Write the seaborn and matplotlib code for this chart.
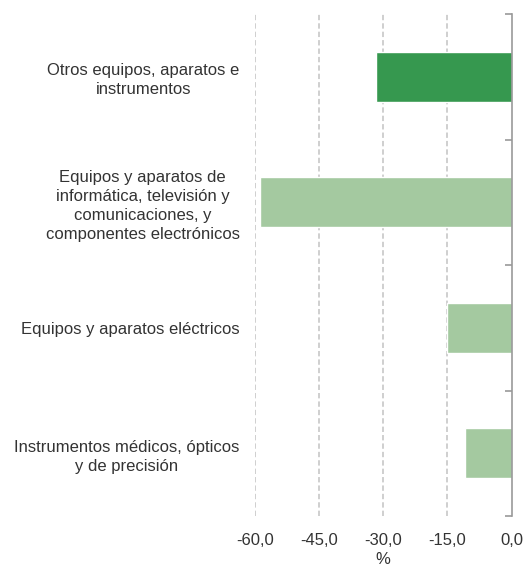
import matplotlib
matplotlib.use("Agg")
import matplotlib.pyplot as plt
from matplotlib.ticker import FixedLocator
import seaborn as sns
import pandas as pd

categories = [
    "Otros equipos, aparatos e\ninstrumentos",
    "Equipos y aparatos de\ninformática, televisión y\ncomunicaciones, y\ncomponentes electrónicos",
    "Equipos y aparatos eléctricos",
    "Instrumentos médicos, ópticos\ny de precisión",
]
values = [-31.6, -58.8, -15.0, -10.9]
colors = ["#36984f", "#a4c9a0", "#a4c9a0", "#a4c9a0"]
xticks = [-60, -45, -30, -15, 0]
xticklabels = ["-60,0", "-45,0", "-30,0", "-15,0", "0,0"]

sns.set_theme(style="white")
plt.rcParams["font.family"] = ["Liberation Sans", "DejaVu Sans"]

df = pd.DataFrame({"cat": categories, "val": values})

fig = plt.figure(figsize=(5.26, 5.69), dpi=100)
ax = fig.add_axes([255 / 526, 1 - 516 / 569, (511.5 - 255) / 526, (516 - 14) / 569])

sns.barplot(data=df, x="val", y="cat", hue="cat", palette=colors,
            legend=False, width=0.4, ax=ax, saturation=1)

ax.set_xlim(-60, 0)
ax.set_ylim(3.5, -0.5)

# dashed vertical gridlines
for t in xticks[:-1]:
    ax.axvline(t, color="#c2c2c2", lw=1.1, ls=(0, (3.5, 2)), zorder=0)

ax.set_xticks(xticks)
ax.set_xticklabels(xticklabels, fontsize=12, color="#333333")
ax.set_xlabel("%", fontsize=12, color="#333333", labelpad=3)
ax.set_ylabel("")
ax.tick_params(axis="x", length=0, pad=12)

ax.set_yticks(range(len(categories)))
ax.set_yticklabels(categories, fontsize=12, color="#333333",
                   multialignment="center", linespacing=1.35)
ax.tick_params(axis="y", which="major", length=0, pad=11)

# category boundary ticks on the zero line
ax.yaxis.set_minor_locator(FixedLocator([-0.5, 0.5, 1.5, 2.5, 3.5]))
ax.tick_params(axis="y", which="minor", left=False, right=True,
               direction="in", length=5, width=1.2, color="#999999")

for s in ["top", "left", "bottom"]:
    ax.spines[s].set_visible(False)
ax.spines["right"].set_color("#999999")
ax.spines["right"].set_linewidth(1.2)

fig.savefig("out.png", dpi=100)
